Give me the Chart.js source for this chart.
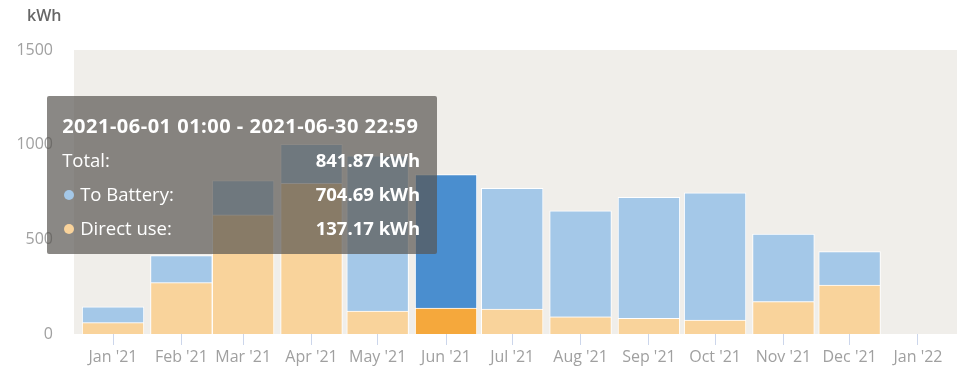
<!DOCTYPE html>
<html>
<head>
<meta charset="utf-8">
<script src="https://cdn.jsdelivr.net/npm/chart.js@4.4.1/dist/chart.umd.min.js"></script>
<style>
  body { margin: 0; background: #fff; font-family: "Open Sans", sans-serif; }
  #wrap { position: relative; width: 972px; height: 385px; }
  #unit { position: absolute; left: 27px; top: 4px; font-size: 16px; font-weight: 600; color: #666; }
  #tip {
    position: absolute; display: none; pointer-events: none;
    background: rgba(88, 85, 81, 0.7); color: #fff; border-radius: 2px;
    padding: 13px 17px 9px 15px; width: 358px; font-size: 18.5px;
  }
  #tip .title { font-weight: 700; font-size: 20px; letter-spacing: 0.5px; line-height: 34px; white-space: nowrap; }
  #tip .row { display: flex; justify-content: space-between; line-height: 34px; }
  #tip .row b { font-weight: 700; }
  #tip .dot { display: inline-block; width: 10px; height: 10px; border-radius: 50%; margin: 0 6px 0 2px; vertical-align: 1px; }
</style>
</head>
<body>
<div id="wrap">
  <div id="unit">kWh</div>
  <canvas id="energyChart"></canvas>
  <div id="tip"></div>
</div>
<script>
// months shown on the axis (first day of each)
const months = ['2021-01', '2021-02', '2021-03', '2021-04', '2021-05', '2021-06',
                '2021-07', '2021-08', '2021-09', '2021-10', '2021-11', '2021-12', '2022-01'];
const monthLabels = ["Jan '21", "Feb '21", "Mar '21", "Apr '21", "May '21", "Jun '21",
                     "Jul '21", "Aug '21", "Sep '21", "Oct '21", "Nov '21", "Dec '21", "Jan '22"];
// kWh per month, Jan '22 has no data yet
const toBattery = [84, 143, 181, 206, 820, 704.694, 638, 560, 639, 672, 357, 176, null];
const directUse = [60, 271, 629, 796, 121, 137.174, 132, 91, 83, 74, 171, 259, null];
const yTicks = [0, 500, 1000, 1500];
const activeMonth = 5;

const dayMs = 86400000;
const origin = Date.UTC(2021, 0, 1);
const monthDay = m => (Date.UTC(+m.slice(0, 4), +m.slice(5, 7) - 1, 1) - origin) / dayMs;
const xs = months.map(monthDay);

const bgPlugin = {
    id: 'plotBg',
    beforeDraw(chart) {
        const a = chart.chartArea;
        const ctx = chart.ctx;
        ctx.save();
        ctx.fillStyle = '#f0eeea';
        ctx.fillRect(a.left, a.top, a.right - a.left, a.bottom - a.top);
        ctx.restore();
    }
};

function lastDay(m) {
    return new Date(Date.UTC(+m.slice(0, 4), +m.slice(5, 7), 0)).getUTCDate();
}

function externalTip(context) {
    const tip = document.getElementById('tip');
    const t = context.tooltip;
    if (t.opacity === 0 || !t.dataPoints || !t.dataPoints.length) {
        tip.style.display = 'none';
        return;
    }
    const i = t.dataPoints[0].dataIndex;
    const m = months[i];
    const total = (toBattery[i] || 0) + (directUse[i] || 0);
    tip.innerHTML =
        '<div class="title">' + m + '-01 01:00 - ' + m + '-' + lastDay(m) + ' 22:59</div>' +
        '<div class="row"><span>Total:</span><b>' + total.toFixed(2) + ' kWh</b></div>' +
        '<div class="row"><span><span class="dot" style="background:#a4c8e8"></span>To Battery:</span><b>' +
        toBattery[i].toFixed(2) + ' kWh</b></div>' +
        '<div class="row"><span><span class="dot" style="background:#f9d39b"></span>Direct use:</span><b>' +
        directUse[i].toFixed(2) + ' kWh</b></div>';
    tip.style.display = 'block';
    const bar = context.chart.getDatasetMeta(0).data[i];
    const w = tip.offsetWidth;
    tip.style.left = (bar.x - bar.width / 2 + 22 - w) + 'px';
    tip.style.top = '96px';
}

const chart = new Chart(document.getElementById('energyChart').getContext('2d'), {
    type: 'bar',
    data: {
        datasets: [{
            label: 'Direct use',
            data: xs.map((x, i) => ({ x: x, y: directUse[i] })),
            backgroundColor: '#f9d39b',
            hoverBackgroundColor: '#f5a83c',
            borderColor: '#fff',
            hoverBorderColor: '#fff',
            borderWidth: 1
        }, {
            label: 'To Battery',
            data: xs.map((x, i) => ({ x: x, y: toBattery[i] })),
            backgroundColor: '#a4c8e8',
            hoverBackgroundColor: '#4a8ecf',
            borderColor: '#fff',
            hoverBorderColor: '#fff',
            borderWidth: 1
        }]
    },
    options: {
        responsive: true,
        maintainAspectRatio: false,
        animation: false,
        events: [],
        barPercentage: 1,
        categoryPercentage: 1,
        layout: { padding: { left: 0, right: 15, top: 50, bottom: 0 } },
        interaction: { mode: 'index', intersect: false },
        plugins: {
            legend: { display: false },
            tooltip: { enabled: false, external: externalTip }
        },
        scales: {
            x: {
                type: 'linear',
                stacked: true,
                offset: false,
                min: -17.7,
                max: 382.7,
                afterBuildTicks: s => { s.ticks = xs.map(v => ({ value: v })); },
                afterFit: s => { s.height = 51; },
                grid: { offset: false, drawOnChartArea: false, drawTicks: true, tickLength: 11, color: '#ccd6eb' },
                border: { display: false },
                ticks: {
                    padding: 3,
                    color: '#a0a0a0',
                    maxRotation: 0,
                    autoSkip: false,
                    font: { family: 'Open Sans', size: 16 },
                    callback: (v, i) => monthLabels[i]
                }
            },
            y: {
                stacked: true,
                min: 0,
                max: 1500,
                afterBuildTicks: s => { s.ticks = yTicks.map(v => ({ value: v })); },
                afterFit: s => { s.width = 74; },
                grid: { display: false, drawTicks: false },
                border: { display: false },
                ticks: {
                    padding: 21,
                    color: '#a0a0a0',
                    font: { family: 'Open Sans', size: 16 },
                    callback: v => String(v)
                }
            }
        }
    },
    plugins: [bgPlugin]
});

const act = [{ datasetIndex: 0, index: activeMonth }, { datasetIndex: 1, index: activeMonth }];
chart.setActiveElements(act);
chart.tooltip.setActiveElements(act, { x: 0, y: 0 });
chart.update();
</script>
</body>
</html>
